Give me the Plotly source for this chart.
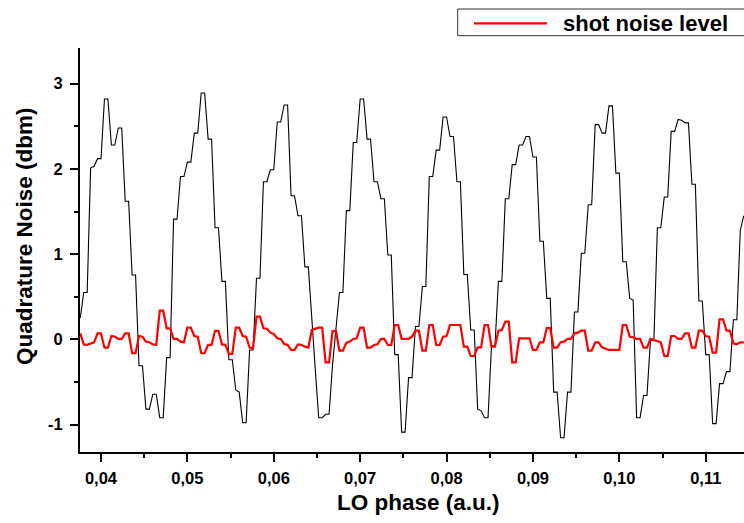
import plotly.graph_objects as go

# ---- data ----
PHASE_START = 0.0376   # first LO phase sample (a.u.)
PHASE_STEP = 0.0004    # sample spacing (a.u.)

quadrature_noise = [
    0.25, 0.55, 0.55, 2.01, 2.03, 2.12, 2.12, 2.82, 2.82, 2.28,
    2.28, 2.48, 2.48, 1.62, 1.62, 0.755, 0.755, -0.31, -0.31, -0.82,
    -0.82, -0.645, -0.645, -0.92, -0.92, -0.215, -0.215, 1.41, 1.41, 1.91,
    1.91, 2.08, 2.08, 2.42, 2.42, 2.89, 2.89, 2.35, 2.35, 1.31,
    1.31, 0.68, 0.68, -0.24, -0.24, -0.595, -0.62, -0.98, -0.98, -0.126,
    -0.126, 0.716, 0.716, 1.85, 1.85, 1.99, 1.99, 2.55, 2.55, 2.75,
    2.75, 1.685, 1.685, 1.45, 1.45, 0.85, 0.85, 0.3, -0.35, -0.92,
    -0.92, -0.88, -0.88, -0.3, 0.1, 0.55, 0.55, 1.51, 1.51, 2.31,
    2.31, 2.82, 2.82, 2.35, 2.35, 1.85, 1.85, 1.65, 1.65, 0.99,
    0.99, -0.18, -0.18, -1.09, -1.09, -0.45, -0.45, 0.15, 0.15, 0.62,
    0.62, 1.91, 1.91, 2.22, 2.22, 2.61, 2.61, 2.38, 2.38, 1.85,
    1.85, 0.76, 0.76, 0.11, 0.11, -0.82, -0.84, -0.92, -0.92, -0.075,
    -0.075, 0.68, 0.68, 1.65, 1.65, 2.05, 2.05, 2.28, 2.28, 2.38,
    2.38, 2.14, 2.14, 1.15, 1.15, 0.48, 0.48, -0.62, -0.62, -1.155,
    -1.155, -0.62, -0.62, 0.32, 0.32, 1.01, 1.01, 1.58, 1.58, 2.52,
    2.52, 2.42, 2.42, 2.74, 2.74, 1.95, 1.95, 0.91, 0.91, 0.48,
    0.46, -0.92, -0.92, -0.66, -0.66, -0.01, -0.01, 1.31, 1.31, 1.67,
    1.67, 2.44, 2.44, 2.58, 2.57, 2.54, 2.54, 1.82, 1.82, 0.45,
    0.45, -0.18, -0.18, -0.99, -0.99, -0.52, -0.52, -0.38, -0.38, 0.23,
    0.23, 1.28, 1.45,
]

shot_noise = [
    0.07, -0.06, -0.065, -0.047, -0.035, 0.07, 0.07, -0.098, -0.098, 0.039,
    0.031, 0.004, 0.004, 0.07, 0.07, -0.164, -0.164, 0.039, 0.031, -0.028,
    -0.035, -0.06, -0.065, 0.336, 0.336, 0.129, 0.129, 0.004, 0.004, -0.028,
    -0.035, 0.136, 0.136, 0.039, 0.031, -0.164, -0.164, -0.065, -0.065, 0.1,
    0.1, -0.06, -0.065, -0.17, -0.17, 0.136, 0.136, 0.039, 0.031, -0.098,
    -0.105, 0.266, 0.266, 0.13, 0.125, 0.078, 0.062, 0.012, 0.004, -0.055,
    -0.065, -0.125, -0.125, -0.06, -0.065, -0.086, -0.098, 0.11, 0.12, 0.136,
    0.136, -0.27, -0.27, 0.097, 0.097, -0.134, -0.134, -0.04, -0.028, 0.004,
    0.012, 0.136, 0.136, -0.098, -0.098, -0.067, -0.059, 0.004, 0.004, -0.067,
    -0.067, 0.168, 0.168, 0.004, 0.004, 0.004, 0.031, 0.101, 0.101, -0.134,
    -0.134, 0.168, 0.168, -0.067, -0.067, 0.031, 0.039, 0.168, 0.168, 0.168,
    0.168, -0.086, -0.086, -0.196, -0.196, -0.094, -0.094, 0.168, 0.168, -0.086,
    -0.086, 0.101, 0.109, 0.207, 0.207, -0.27, -0.27, 0.012, 0.012, 0.012,
    0.012, -0.125, -0.125, -0.035, -0.035, 0.13, 0.13, -0.098, -0.098, -0.035,
    -0.028, 0.004, 0.004, 0.07, 0.078, 0.101, 0.101, -0.134, -0.134, -0.035,
    -0.035, -0.094, -0.106, -0.125, -0.125, -0.125, -0.125, 0.168, 0.168, 0.031,
    0.023, 0.004, 0.004, -0.098, -0.098, 0.004, -0.008, -0.028, -0.035, -0.196,
    -0.196, 0.039, 0.039, 0.004, 0.004, 0.07, 0.07, -0.098, -0.098, 0.101,
    0.101, 0.039, 0.031, -0.157, -0.157, 0.235, 0.235, 0.101, 0.101, -0.047,
    -0.059, -0.035, -0.035,
]

x_tick_values = [0.04, 0.05, 0.06, 0.07, 0.08, 0.09, 0.10, 0.11]
x_tick_labels = ["0,04", "0,05", "0,06", "0,07", "0,08", "0,09", "0,10", "0,11"]
y_tick_values = [-1, 0, 1, 2, 3]
y_tick_labels = ["-1", "0", "1", "2", "3"]

legend_label = "shot noise level"
x_title = "LO phase (a.u.)"
y_title = "Quadrature Noise (dbm)"

phase_q = [round(PHASE_START + PHASE_STEP * i, 6) for i in range(len(quadrature_noise))]
phase_s = [round(PHASE_START + PHASE_STEP * i, 6) for i in range(len(shot_noise))]

FONT = "Liberation Sans, Arial, Helvetica, sans-serif"

fig = go.Figure()
fig.add_trace(go.Scatter(
    x=phase_q, y=quadrature_noise, mode="lines",
    line=dict(color="black", width=1.1), showlegend=False,
))
fig.add_trace(go.Scatter(
    x=phase_s, y=shot_noise, mode="lines",
    line=dict(color="#ff0000", width=2.2), showlegend=False,
))

axis_common = dict(
    showgrid=False, zeroline=False, showline=True, linecolor="black",
    linewidth=2, ticks="outside", ticklen=8, tickwidth=1.5, tickcolor="black",
    tickfont=dict(family=FONT, size=16.5, color="black", weight="bold"),
)

fig.update_layout(
    width=744, height=523,
    margin=dict(l=80, r=0, t=48, b=71, pad=0),
    paper_bgcolor="white", plot_bgcolor="white",
    xaxis=dict(
        range=[0.037569, 0.114429], tickvals=x_tick_values, ticktext=x_tick_labels,
        minor=dict(ticks="outside", ticklen=4, tickwidth=1.5, tickcolor="black",
                   tickvals=[0.045, 0.055, 0.065, 0.075, 0.085, 0.095, 0.105]),
        ticklabelstandoff=2,
        **axis_common,
    ),
    yaxis=dict(
        range=[-1.3228, 3.419], tickvals=y_tick_values, ticktext=y_tick_labels,
        minor=dict(ticks="outside", ticklen=4, tickwidth=1.5, tickcolor="black",
                   tickvals=[-0.5, 0.5, 1.5, 2.5]),
        ticklabelstandoff=4,
        **axis_common,
    ),
    showlegend=False,
)

# axis titles
fig.add_annotation(
    text=x_title, xref="paper", yref="paper", x=(418 - 80) / 664, y=(452 - 503) / 404,
    xanchor="center", yanchor="middle", showarrow=False,
    font=dict(family=FONT, size=22.5, color="black", weight="bold"),
)
fig.add_annotation(
    text=y_title, xref="paper", yref="paper", x=(24 - 80) / 664, y=(452 - 236) / 404,
    xanchor="center", yanchor="middle", textangle=-90, showarrow=False,
    font=dict(family=FONT, size=22.5, color="black", weight="bold"),
)

# legend box (drawn manually, right side cut off like the reference)
fig.add_shape(
    type="rect", xref="paper", yref="paper",
    x0=(457.7 - 80) / 664, x1=1.05, y0=(452 - 35.7) / 404, y1=(452 - 9) / 404,
    line=dict(color="#333333", width=1), fillcolor="white", layer="above",
)
fig.add_shape(
    type="line", xref="paper", yref="paper",
    x0=(474 - 80) / 664, x1=(547 - 80) / 664, y0=(452 - 23.3) / 404, y1=(452 - 23.3) / 404,
    line=dict(color="#ff0000", width=2.2), layer="above",
)
fig.add_annotation(
    text=legend_label, xref="paper", yref="paper",
    x=(561 - 80) / 664, y=(452 - 23.3) / 404, xanchor="left", yanchor="middle",
    showarrow=False, font=dict(family=FONT, size=22, color="black", weight="bold"),
)

fig.write_html("out.html")
